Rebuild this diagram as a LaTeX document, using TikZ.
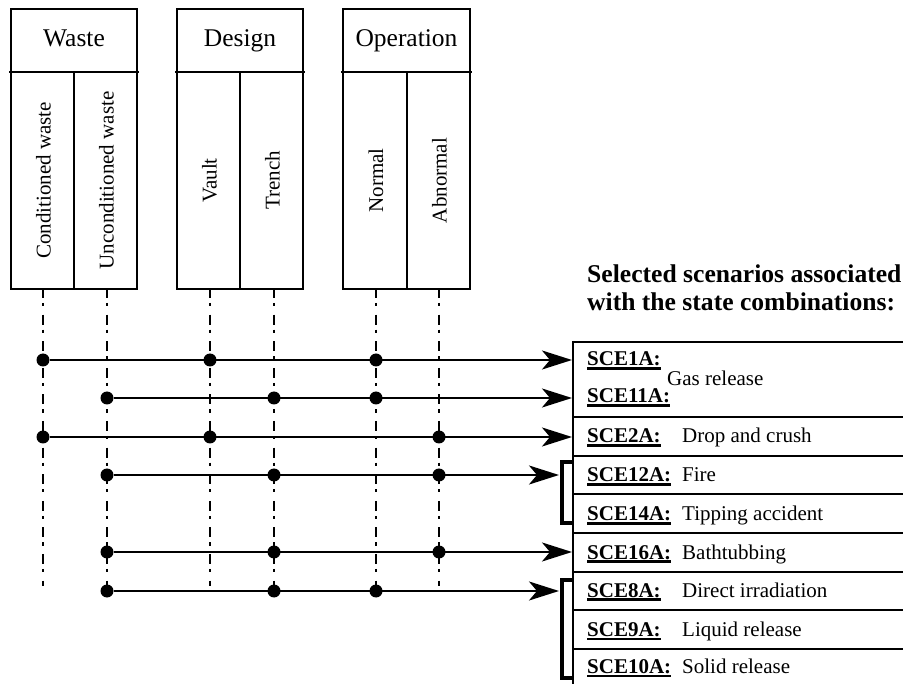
\documentclass[tikz,border=0pt]{standalone}
\usepackage{fontspec}
\setmainfont{Liberation Serif}
\usetikzlibrary{arrows.meta}
% thick underline for the scenario codes
\newcommand{\codeul}[1]{\setbox0=\hbox{#1}\leavevmode\rlap{\rule[-3.6pt]{\wd0}{2.1pt}}\box0}
\begin{document}
\begin{tikzpicture}[x=1pt,y=-1pt,
  frame/.style={draw, line width=2pt},
  head/.style={font=\fontsize{25.5}{30}\selectfont, anchor=base, inner sep=0},
  state/.style={font=\fontsize{21}{25}\selectfont, rotate=90, anchor=base, inner sep=0},
  guide/.style={line width=2.8pt, dash pattern=on 10pt off 5pt on 3.3pt off 8.3pt, dash phase=2pt},
  hit/.style={circle, fill, inner sep=0, minimum size=13pt},
  link/.style={line width=2.2pt, -{Stealth[length=30pt,width=19pt,inset=8pt]}},
  brace/.style={line width=3.5pt},
  rowline/.style={line width=2pt},
  code/.style={font=\fontsize{21}{25}\selectfont\bfseries, anchor=base west, inner sep=0},
  desc/.style={font=\fontsize{21}{25}\selectfont, anchor=base west, inner sep=0},
  title/.style={font=\fontsize{25.6}{29}\selectfont\bfseries, anchor=base west, inner sep=0},
]
\useasboundingbox (0,0) rectangle (903,684);

% ---- factor boxes ----
% Waste
\draw[frame] (11,9) rectangle (137,289);
\draw[frame] (9,72) -- (139,72);
\draw[frame] (74,72) -- (74,289);
\node[head] (waste) at (74,47) {Waste};
\node[state] (cond) at (50.5,180.5) {Conditioned waste};
\node[state] (uncond) at (113.5,180.5) {Unconditioned waste};
% Design
\draw[frame] (177,9) rectangle (303,289);
\draw[frame] (175,72) -- (305,72);
\draw[frame] (240,72) -- (240,289);
\node[head] (design) at (240,47) {Design};
\node[state] (vault) at (216.5,180.5) {Vault};
\node[state] (trench) at (279.5,180.5) {Trench};
% Operation
\draw[frame] (343,9) rectangle (470,289);
\draw[frame] (341,72) -- (472,72);
\draw[frame] (407,72) -- (407,289);
\node[head] (operation) at (406.5,47) {Operation};
\node[state] (normal) at (383,180.5) {Normal};
\node[state] (abnormal) at (446.5,180.5) {Abnormal};

% ---- state guide lines ----
\foreach \n/\x in {c/43,u/107,v/210,t/274,n/376,a/439}{
  \coordinate (top\n) at (\x,290);
  \coordinate (bot\n) at (\x,586);
  \draw[guide] (top\n) -- (bot\n);
}

% ---- scenario table ----
\draw[rowline] (573,341) -- (573,684);
\foreach \y in {342,417.5,456,494.5,533,571.5,610,648.5}
  \draw[rowline] (572,\y) -- (903,\y);

\node[title] (ttl1) at (587,283) {Selected scenarios associated};
\node[title] (ttl2) at (587,311) {with the state combinations:};

\node[code] (s1)  at (587,366) {\codeul{SCE1A:}};
\node[code] (s11) at (587,403) {\codeul{SCE11A:}};
\node[desc] (gas) at (667,386) {Gas release};
\node[code] (s2)  at (587,443) {\codeul{SCE2A:}};
\node[desc] (d2)  at (682,443) {Drop and crush};
\node[code] (s12) at (587,482) {\codeul{SCE12A:}};
\node[desc] (d12) at (682,482) {Fire};
\node[code] (s14) at (587,521) {\codeul{SCE14A:}};
\node[desc] (d14) at (682,521) {Tipping accident};
\node[code] (s16) at (587,559) {\codeul{SCE16A:}};
\node[desc] (d16) at (682,559) {Bathtubbing};
\node[code] (s8)  at (587,597) {\codeul{SCE8A:}};
\node[desc] (d8)  at (682,597) {Direct irradiation};
\node[code] (s9)  at (587,636) {\codeul{SCE9A:}};
\node[desc] (d9)  at (682,636) {Liquid release};
\node[code] (s10) at (587,673) {\codeul{SCE10A:}};
\node[desc] (d10) at (682,673) {Solid release};

% ---- brackets grouping scenarios ----
\coordinate (b1a) at (573,462);
\coordinate (b1b) at (562,462);
\coordinate (b1c) at (562,523);
\coordinate (b1d) at (573,523);
\draw[brace] (b1a) -- (b1b) -- (b1c) -- (b1d);
\coordinate (b2a) at (573,580);
\coordinate (b2b) at (562,580);
\coordinate (b2c) at (562,678);
\coordinate (b2d) at (573,678);
\draw[brace] (b2a) -- (b2b) -- (b2c) -- (b2d);

% ---- arrow targets ----
\coordinate (e1) at (572,360);
\coordinate (e2) at (572,398);
\coordinate (e3) at (572,437);
\coordinate (e4) at (559,475);
\coordinate (e5) at (572,552);
\coordinate (e6) at (559,591);

% ---- state combinations ----
\node[hit] (r1c) at (43,360) {};
\node[hit] (r1v) at (210,360) {};
\node[hit] (r1n) at (376,360) {};
\draw[link] (r1c) -- (e1);

\node[hit] (r2u) at (107,398) {};
\node[hit] (r2t) at (274,398) {};
\node[hit] (r2n) at (376,398) {};
\draw[link] (r2u) -- (e2);

\node[hit] (r3c) at (43,437) {};
\node[hit] (r3v) at (210,437) {};
\node[hit] (r3a) at (439,437) {};
\draw[link] (r3c) -- (e3);

\node[hit] (r4u) at (107,475) {};
\node[hit] (r4t) at (274,475) {};
\node[hit] (r4a) at (439,475) {};
\draw[link] (r4u) -- (e4);

\node[hit] (r5u) at (107,552) {};
\node[hit] (r5t) at (274,552) {};
\node[hit] (r5a) at (439,552) {};
\draw[link] (r5u) -- (e5);

\node[hit] (r6u) at (107,591) {};
\node[hit] (r6t) at (274,591) {};
\node[hit] (r6n) at (376,591) {};
\draw[link] (r6u) -- (e6);
\end{tikzpicture}
\end{document}
